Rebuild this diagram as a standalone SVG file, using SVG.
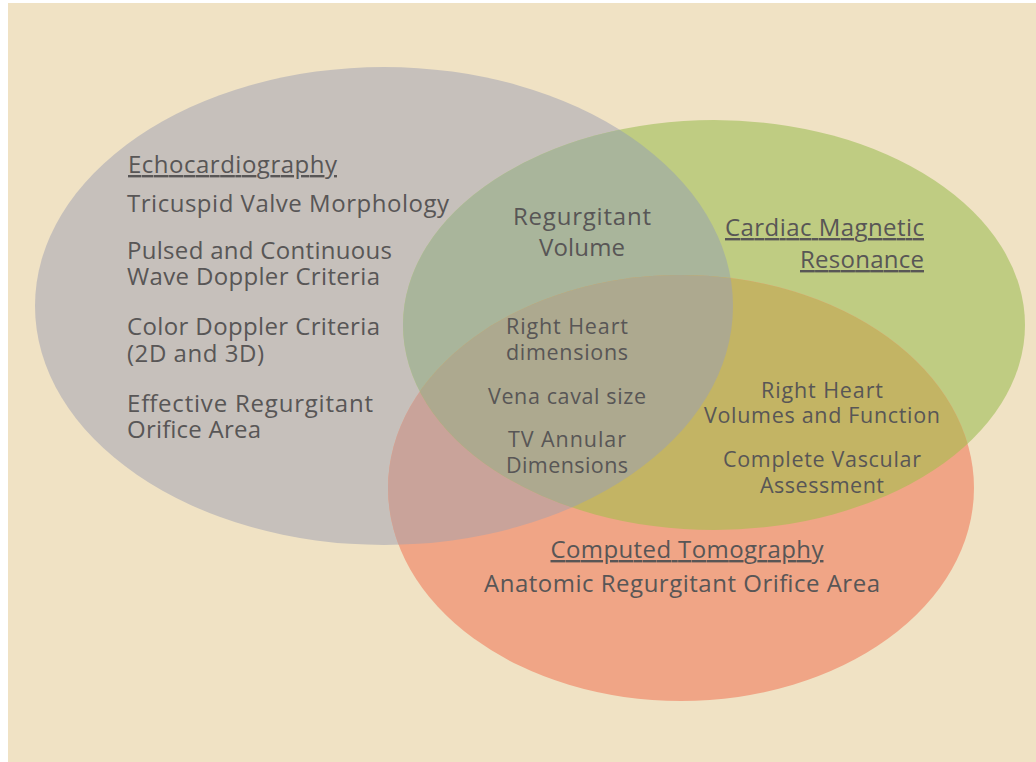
<svg xmlns="http://www.w3.org/2000/svg" width="1036" height="762" viewBox="0 0 1036 762">
  <style>
    .t { font-family: "Open Sans", "Noto Sans", "Liberation Sans", sans-serif; font-size: 24px; fill: #585656; }
    .s { font-size: 21.5px; }
    .h { text-decoration: underline; }
    .c { text-anchor: middle; }
    .r { text-anchor: end; }
  </style>
  <defs>
    <clipPath id="clipEcho"><ellipse cx="384" cy="306" rx="349" ry="239"/></clipPath>
    <clipPath id="clipCmr"><ellipse cx="714" cy="325" rx="311" ry="205"/></clipPath>
  </defs>

  <!-- page -->
  <rect x="0" y="0" width="1036" height="762" fill="#ffffff"/>
  <rect x="8" y="3" width="1028" height="759" fill="#F0E2C4"/>

  <!-- circles and their overlaps -->
  <g id="venn">
    <ellipse id="echo" cx="384" cy="306" rx="349" ry="239" fill="#C6C0BB"/>
    <ellipse id="cmr" cx="714" cy="325" rx="311" ry="205" fill="#BFCC82"/>
    <ellipse id="ct" cx="681" cy="488" rx="293" ry="213" fill="#F0A586"/>
    <ellipse cx="714" cy="325" rx="311" ry="205" fill="#A9B59B" clip-path="url(#clipEcho)"/>
    <ellipse cx="681" cy="488" rx="293" ry="213" fill="#C9A39A" clip-path="url(#clipEcho)"/>
    <ellipse cx="681" cy="488" rx="293" ry="213" fill="#C3B464" clip-path="url(#clipCmr)"/>
    <g clip-path="url(#clipEcho)">
      <ellipse cx="681" cy="488" rx="293" ry="213" fill="#ADA98F" clip-path="url(#clipCmr)"/>
    </g>
  </g>

  <!-- echocardiography -->
  <g id="echo-text">
    <text class="t h" x="128" y="173" textLength="209">Echocardiography</text>
    <text class="t" x="127" y="212" textLength="322">Tricuspid Valve Morphology</text>
    <text class="t" x="127" y="259" textLength="265">Pulsed and Continuous</text>
    <text class="t" x="127" y="285" textLength="253">Wave Doppler Criteria</text>
    <text class="t" x="127" y="335" textLength="253">Color Doppler Criteria</text>
    <text class="t" x="127" y="362" textLength="137">(2D and 3D)</text>
    <text class="t" x="127" y="412" textLength="246">Effective Regurgitant</text>
    <text class="t" x="127" y="438" textLength="134">Orifice Area</text>
  </g>

  <!-- echo and cmr -->
  <g id="echo-cmr-text">
    <text class="t c" x="582" y="225" textLength="138">Regurgitant</text>
    <text class="t c" x="582" y="256" textLength="86">Volume</text>
  </g>

  <!-- cardiac magnetic resonance -->
  <g id="cmr-text">
    <text class="t h r" x="924" y="236" textLength="199">Cardiac Magnetic</text>
    <text class="t h r" x="924" y="268" textLength="124">Resonance</text>
  </g>

  <!-- all three -->
  <g id="all-text">
    <text class="t s c" x="567" y="334" textLength="122">Right Heart</text>
    <text class="t s c" x="567" y="360" textLength="122">dimensions</text>
    <text class="t s c" x="567" y="404" textLength="158">Vena caval size</text>
    <text class="t s c" x="567" y="447" textLength="118">TV Annular</text>
    <text class="t s c" x="567" y="473" textLength="122">Dimensions</text>
  </g>

  <!-- cmr and ct -->
  <g id="cmr-ct-text">
    <text class="t s c" x="822" y="398" textLength="122">Right Heart</text>
    <text class="t s c" x="822" y="423" textLength="236">Volumes and Function</text>
    <text class="t s c" x="822" y="467" textLength="198">Complete Vascular</text>
    <text class="t s c" x="822" y="493" textLength="124">Assessment</text>
  </g>

  <!-- computed tomography -->
  <g id="ct-text">
    <text class="t h c" x="687" y="558" textLength="273">Computed Tomography</text>
    <text class="t c" x="682" y="592" textLength="396">Anatomic Regurgitant Orifice Area</text>
  </g>
</svg>
